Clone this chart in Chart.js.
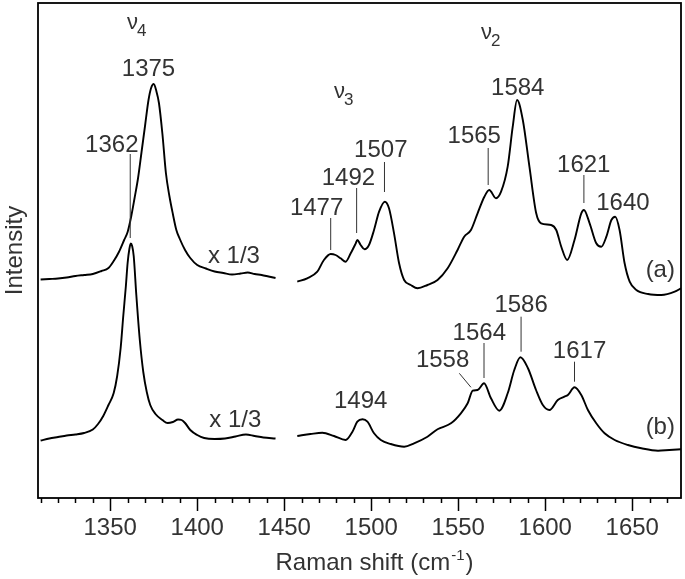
<!DOCTYPE html>
<html><head><meta charset="utf-8">
<script src="https://cdn.jsdelivr.net/npm/chart.js@4/dist/chart.umd.min.js"></script>
<style>html,body{margin:0;padding:0;background:#fff}#wrap{width:685px;height:579px}</style>
</head><body><div id="wrap"><canvas id="c" width="685" height="579"></canvas></div>
<script>
// ---------- data (Raman shift in cm-1, intensity in arbitrary units) ----------
const aLeftX = [1310,1315,1320,1325,1330,1335,1340,1345,1349,1352,1355,1358,1360,1362,1364,1366,1368,1370,1372,1373.5,1375,1376.5,1378,1380,1382,1384,1386,1388,1390,1393,1396,1400,1405,1410,1415,1420,1425,1429,1433,1437,1441,1445];
const aLeftY = [218.5,219,219.5,220.5,222,223,224,227,230,237,246,258,266,281,300,320,346,372,398,410,414,407,395,364,325,302,284,268,259,248,240,233,229.5,226.5,225,223.5,224.5,225.5,224,223,221.5,220];

const aRightX = [1457.5,1463.2,1469,1472.8,1476.7,1479.5,1482.4,1485.3,1488.2,1491.1,1492,1493.9,1496.2,1498.7,1501.6,1504.5,1507.8,1510.2,1513.1,1516,1518.9,1522.7,1526.6,1532.3,1538.1,1543.9,1549.6,1553.4,1557.3,1561.1,1565,1567.8,1571.7,1574.6,1578.4,1581.3,1583.8,1587.1,1590.9,1594.8,1597.6,1603.4,1606.3,1609.2,1612.6,1616.8,1620.7,1622.2,1625.5,1629.3,1632.2,1635.1,1638,1640.2,1642.7,1645.6,1648.5,1652.3,1659.1,1666.7,1674.4,1678];
const aRightY = [216.3,219.7,226.3,238,244,243,239.7,236.3,244.7,254.7,258,253,248.7,253,268,286.3,296.3,289.7,264.7,234.7,218,213,209.7,213,218,229.7,248,261.3,268,284.7,301.3,308,299.7,306.3,331.3,371.3,398,378,331.3,284.7,274.7,273,268,251.3,238,258,284.7,288,274.7,254.7,251.3,261.3,278,281.3,268,234.7,216.3,208,204,203,206.3,209.7];

const bLeftX = [1310,1315,1320,1325,1330,1335,1340,1343,1346,1349,1352,1354,1356,1357.5,1359,1360,1361,1361.8,1362.6,1363.5,1365,1367,1369,1371,1373,1376,1380,1383,1386,1389,1391,1393,1396,1400,1404,1410,1416,1422,1428,1433,1438,1445];
const bLeftY = [57.5,59.5,61,62.5,63.5,65,68.5,74,82,93,105,122,150,182,212,235,249,254.5,252,242,203,158,126,106,93,84,78,75,76,78.5,78,75,68,63,60,59,59.5,61.5,63.5,62,60.5,59.5];

const bRightX = [1457.5,1465.1,1471.9,1478.6,1485.3,1489.2,1492,1495,1497.8,1501.6,1505.5,1511.2,1518.9,1524.6,1532.3,1538.1,1545.8,1551.5,1555.4,1558.3,1561.1,1564.8,1568.8,1573.6,1578.4,1582.2,1585.7,1590,1594.7,1598.6,1602.4,1607.2,1611,1613,1616.8,1620.7,1624.5,1629.3,1634.1,1639.9,1647.5,1655.2,1664.8,1671.3,1678];
const bRightY = [62,64,65.3,62,58,66.3,76.3,78.7,76.3,64.7,58,54,51.3,54.7,61.3,68.7,74.7,84.7,94.7,107.3,108,114.7,99.7,87.3,104.7,128,140.7,130,108,93,88,98,101.3,103,110.7,103,88,74.7,64.7,58,53,49.7,47.3,48,48.7];

const majorTicks = [1350,1400,1450,1500,1550,1600,1650];
const minorStep = 10;

// annotations (in data coordinates)
const peakLabels = [
  {t:'1375', x:1372.0, y:422.3}, {t:'1362', x:1350.9, y:346.3},
  {t:'1477', x:1468.6, y:283},   {t:'1492', x:1486.9, y:313},
  {t:'1507', x:1505.5, y:341.3}, {t:'1565', x:1559.2, y:354.7},
  {t:'1584', x:1584.2, y:403},   {t:'1621', x:1622.1, y:326.3},
  {t:'1640', x:1644.6, y:288},   {t:'1494', x:1493.9, y:89.7},
  {t:'1558', x:1541.0, y:131.3}, {t:'1564', x:1562.1, y:158},
  {t:'1586', x:1586.1, y:186.3}, {t:'1617', x:1619.7, y:139.7},
  {t:'x 1/3', x:1421.1, y:235},  {t:'x 1/3', x:1421.9, y:71},
  {t:'(a)', x:1666.1, y:221},    {t:'(b)', x:1666.1, y:64}
];
const markerLines = [
  {x1:1361.5, y1:344, x2:1361.5, y2:260},
  {x1:1476.7, y1:280, x2:1476.7, y2:248},
  {x1:1491.6, y1:310, x2:1491.6, y2:265},
  {x1:1507.6, y1:336, x2:1507.6, y2:306},
  {x1:1567.2, y1:350, x2:1567.2, y2:313},
  {x1:1622.2, y1:323, x2:1622.2, y2:295},
  {x1:1564.8, y1:155, x2:1564.8, y2:120},
  {x1:1586.1, y1:181.3, x2:1586.1, y2:146.3},
  {x1:1616.8, y1:136.3, x2:1616.8, y2:116.3},
  {x1:1550.6, y1:124.7, x2:1557.3, y2:110.7}
];
const modeLabels = [
  {sym:'ν', sub:'4', x:1359.6, y:469.5},
  {sym:'ν', sub:'3', x:1478.6, y:400.5},
  {sym:'ν', sub:'2', x:1563.0, y:459.5}
];

// ---------- chart ----------
const FONT = "'Liberation Sans', Arial, Helvetica, sans-serif";
const TEXT = '#333';
const pts = (xs, ys) => xs.map((v, i) => ({x: v, y: ys[i]}));
const ds = (xs, ys) => ({data: pts(xs, ys), borderColor: '#000', borderWidth: 1.9, pointRadius: 0,
  fill: false, cubicInterpolationMode: 'monotone'});

const decor = {
  id: 'decor',
  afterDraw(chart) {
    const {ctx, chartArea: a, scales: {x, y}} = chart;
    ctx.save();
    ctx.strokeStyle = '#000';
    ctx.lineWidth = 1.8;
    ctx.strokeRect(a.left, a.top, a.right - a.left, a.bottom - a.top);
    ctx.lineWidth = 1.5;
    for (let v = Math.ceil(x.min / minorStep) * minorStep; v <= x.max; v += minorStep) {
      const px = Math.round(x.getPixelForValue(v)) + 0.5;
      const len = (v % 50 === 0) ? 13 : 5;
      ctx.beginPath(); ctx.moveTo(px, a.bottom); ctx.lineTo(px, a.bottom + len); ctx.stroke();
    }
    ctx.strokeStyle = '#333';
    ctx.lineWidth = 1;
    markerLines.forEach(l => {
      ctx.beginPath();
      ctx.moveTo(x.getPixelForValue(l.x1), y.getPixelForValue(l.y1));
      ctx.lineTo(x.getPixelForValue(l.x2), y.getPixelForValue(l.y2));
      ctx.stroke();
    });
    ctx.fillStyle = TEXT;
    ctx.textBaseline = 'alphabetic';
    ctx.textAlign = 'center';
    ctx.font = '24px ' + FONT;
    peakLabels.forEach(p => ctx.fillText(p.t, x.getPixelForValue(p.x), y.getPixelForValue(p.y)));
    ctx.textAlign = 'left';
    modeLabels.forEach(m => {
      const px = x.getPixelForValue(m.x), py = y.getPixelForValue(m.y);
      ctx.font = '22px ' + FONT;
      ctx.fillText(m.sym, px, py);
      const w = ctx.measureText(m.sym).width;
      ctx.font = '17px ' + FONT;
      ctx.fillText(m.sub, px + w - 1, py + 7);
    });
    // x-axis title with superscript
    const main = 'Raman shift (cm', sup = '-1', close = ')';
    ctx.font = '24px ' + FONT; const w1 = ctx.measureText(main).width, w3 = ctx.measureText(close).width;
    ctx.font = '15px ' + FONT; const w2 = ctx.measureText(sup).width;
    const total = w1 + w2 + w3 + 2;
    let sx = (a.left + a.right) / 2 + 15 - total / 2;
    const by = a.bottom + 72;
    ctx.font = '24px ' + FONT; ctx.fillText(main, sx, by); sx += w1 + 1;
    ctx.font = '15px ' + FONT; ctx.fillText(sup, sx, by - 10); sx += w2 + 1;
    ctx.font = '24px ' + FONT; ctx.fillText(close, sx, by);
    ctx.restore();
  }
};

new Chart(document.getElementById('c'), {
  type: 'line',
  data: {datasets: [ds(aLeftX, aLeftY), ds(aRightX, aRightY), ds(bLeftX, bLeftY), ds(bRightX, bRightY)]},
  options: {
    responsive: false, animation: false, events: [],
    layout: {padding: {left: 0, right: 4, top: 3, bottom: 0}},
    plugins: {legend: {display: false}, tooltip: {enabled: false}, title: {display: false}},
    scales: {
      x: {
        type: 'linear', min: 1308.5, max: 1678,
        border: {display: false},
        grid: {display: true, drawOnChartArea: false, drawTicks: true, tickLength: 13, tickWidth: 1,
          tickColor: 'rgba(0,0,0,0)'},
        ticks: {stepSize: 10, includeBounds: false, autoSkip: false, maxRotation: 0, minRotation: 0, padding: 3,
          color: TEXT, font: {family: FONT, size: 24},
          callback: v => majorTicks.includes(Math.round(v)) ? String(Math.round(v)) : ''},
        afterFit: s => { s.height = 81; }
      },
      y: {
        type: 'linear', min: 0, max: 495,
        border: {display: false},
        grid: {display: false, drawTicks: false},
        ticks: {display: false},
        title: {display: true, text: 'Intensity', color: TEXT, font: {family: FONT, size: 24}, padding: {top: 1, bottom: 0}},
        afterFit: s => { s.width = 38; }
      }
    }
  },
  plugins: [decor]
});
</script>
</body></html>
